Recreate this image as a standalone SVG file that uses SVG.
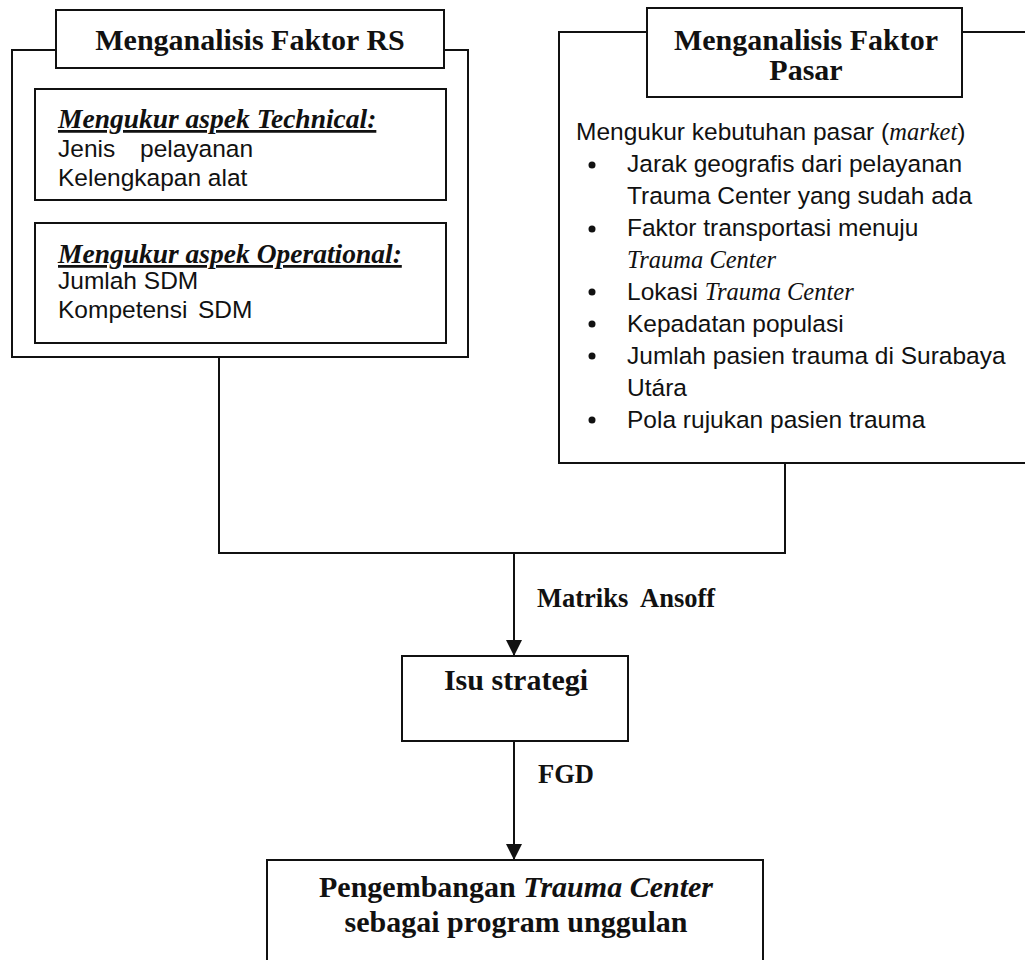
<svg xmlns="http://www.w3.org/2000/svg" width="1025" height="960" viewBox="0 0 1025 960">
<defs>
<style>
.box{fill:none;stroke:#111;stroke-width:2}
.boxw{fill:#fff;stroke:#111;stroke-width:2}
.ttl{font-family:"Liberation Serif","Times New Roman",serif;font-weight:bold;font-size:30px;fill:#111}
.hdr{font-family:"Liberation Serif","Times New Roman",serif;font-weight:bold;font-style:italic;font-size:27.5px;fill:#111;text-decoration:underline}
.body{font-family:"Liberation Sans",Arial,sans-serif;font-size:24.5px;fill:#111}
.it{font-family:"Liberation Serif","Times New Roman",serif;font-style:italic}
.lbl{font-family:"Liberation Serif","Times New Roman",serif;font-weight:bold;font-size:26.5px;fill:#111}
.ln{fill:none;stroke:#111;stroke-width:2}
</style>
<marker id="arr" viewBox="0 0 10 10" refX="10" refY="5" markerWidth="17" markerHeight="16" markerUnits="userSpaceOnUse" orient="auto">
<path d="M0,0 L10,5 L0,10 Z" fill="#111"/>
</marker>
</defs>
<rect width="1025" height="960" fill="#fff"/>

<g id="connectors">
<polyline class="ln" points="219,357 219,553 785,553 785,463"/>
<line class="ln" x1="514" y1="553" x2="514" y2="656" marker-end="url(#arr)"/>
<line class="ln" x1="514" y1="741" x2="514" y2="860" marker-end="url(#arr)"/>
<text class="lbl" x="537" y="607" xml:space="preserve">Matriks  Ansoff</text>
<text class="lbl" x="538" y="783">FGD</text>
</g>

<g id="faktor-rs">
<rect class="box" x="12" y="50" width="456" height="307"/>
<rect class="boxw" x="56" y="10" width="388" height="58"/>
<text class="ttl" x="250" y="50" text-anchor="middle" font-size="31">Menganalisis Faktor RS</text>
</g>

<g id="aspek-technical">
<rect class="box" x="35" y="89" width="411" height="111"/>
<text class="hdr" x="58" y="128">Mengukur aspek Technical:</text>
<text class="body" x="58" y="157">Jenis<tspan x="140">pelayanan</tspan></text>
<text class="body" x="58" y="186">Kelengkapan alat</text>
</g>

<g id="aspek-operational">
<rect class="box" x="35" y="223" width="411" height="120"/>
<text class="hdr" x="58" y="263">Mengukur aspek Operational:</text>
<text class="body" x="58" y="289">Jumlah SDM</text>
<text class="body" x="58" y="318">Kompetensi<tspan x="198">SDM</tspan></text>
</g>

<g id="faktor-pasar">
<rect class="box" x="559" y="32" width="480" height="431"/>
<rect class="boxw" x="647" y="8" width="315" height="89"/>
<text class="ttl" x="806" y="50" text-anchor="middle">Menganalisis Faktor</text>
<text class="ttl" x="806" y="80" text-anchor="middle">Pasar</text>
<text class="body" x="576" y="140">Mengukur kebutuhan pasar (<tspan class="it">market</tspan>)</text>
<g fill="#111">
<circle cx="592" cy="165" r="3.5"/>
<circle cx="592" cy="229" r="3.5"/>
<circle cx="592" cy="292" r="3.5"/>
<circle cx="592" cy="324" r="3.5"/>
<circle cx="592" cy="356" r="3.5"/>
<circle cx="592" cy="420" r="3.5"/>
</g>
<text class="body" x="627" y="172">Jarak geografis dari pelayanan</text>
<text class="body" x="627" y="204">Trauma Center yang sudah ada</text>
<text class="body" x="627" y="236">Faktor transportasi menuju</text>
<text class="body it" x="627" y="268">Trauma Center</text>
<text class="body" x="627" y="300">Lokasi <tspan class="it">Trauma Center</tspan></text>
<text class="body" x="627" y="332">Kepadatan populasi</text>
<text class="body" x="627" y="364">Jumlah pasien trauma di Surabaya</text>
<text class="body" x="627" y="396">Utára</text>
<text class="body" x="627" y="428">Pola rujukan pasien trauma</text>
</g>

<g id="isu-strategi">
<rect class="box" x="402" y="656" width="226" height="85"/>
<text class="ttl" x="516" y="690" text-anchor="middle">Isu strategi</text>
</g>

<g id="pengembangan">
<rect class="box" x="267" y="860" width="496" height="120"/>
<text class="ttl" x="516" y="897" text-anchor="middle">Pengembangan <tspan font-style="italic">Trauma Center</tspan></text>
<text class="ttl" x="516" y="932" text-anchor="middle">sebagai program unggulan</text>
</g>
</svg>
